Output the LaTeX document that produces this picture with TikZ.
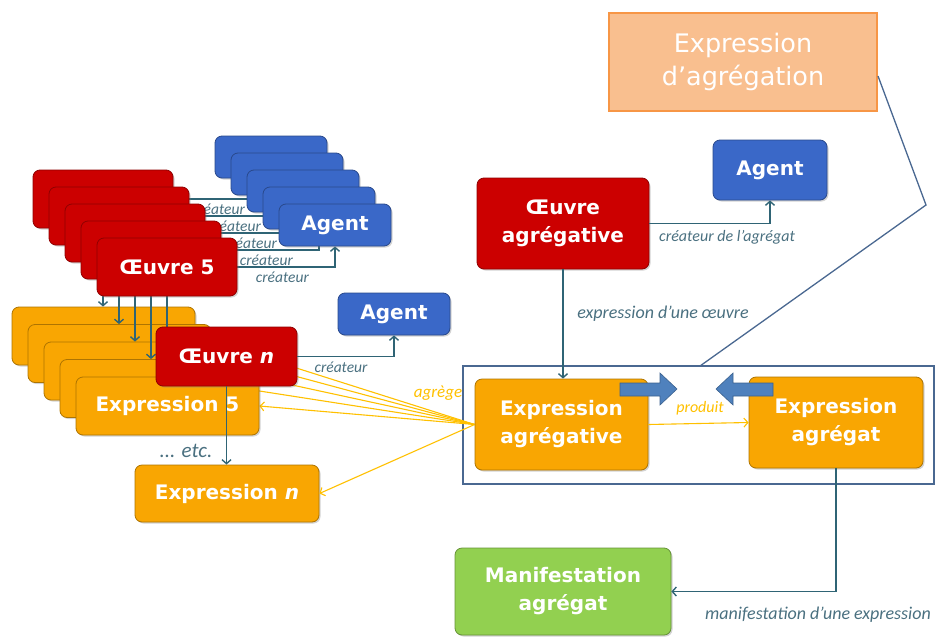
\documentclass[tikz,border=0pt]{standalone}
\usepackage{fontspec}
\newfontfamily\boxfont{DejaVu Sans}
\newfontfamily\lblfont{Carlito}
\usetikzlibrary{arrows.meta,shadows}
\definecolor{cred}{HTML}{CC0000}
\definecolor{cblue}{HTML}{3A68C8}
\definecolor{corange}{HTML}{F9A602}
\definecolor{cgreen}{HTML}{92D050}
\definecolor{cpeach}{HTML}{F9BF8F}
\definecolor{cpeachd}{HTML}{F79646}
\definecolor{cconn}{HTML}{2F6475}
\definecolor{clab}{HTML}{4A7080}
\definecolor{cyel}{HTML}{FFC000}
\definecolor{cframe}{HTML}{4A6891}
\definecolor{cbarrow}{HTML}{4F81BD}
\pgfdeclarelayer{lo}
\pgfdeclarelayer{ex}
\pgfdeclarelayer{ar}
\pgfsetlayers{lo,ex,ar,main}
\tikzset{
  bx/.style={rounded corners=7pt, fill=#1, draw=#1!70!black, line width=0.8pt,
    text=white, align=center, inner sep=0pt,
    font=\boxfont\bfseries\fontsize{20}{28}\selectfont,
    drop shadow={shadow xshift=1.5pt, shadow yshift=-1.5pt, opacity=0.35}},
  sz/.style 2 args={minimum width=#1pt, minimum height=#2pt},
  conn/.style={draw=cconn, line width=1.4pt, -{Straight Barb[length=4pt,width=9pt]}},
  yl/.style={draw=cyel, line width=1.1pt},
  yla/.style={yl, -{Straight Barb[length=4pt,width=9pt]}},
  lbl/.style={font=\lblfont\itshape\fontsize{15.5}{17}\selectfont, text=clab, inner sep=0pt},
  ylbl/.style={lbl, text=cyel},
}
\begin{document}
\begin{tikzpicture}[x=1pt,y=-1pt]
\useasboundingbox (0,0) rectangle (939,637);

% ---------- expression stack (layer ex)
\begin{pgfonlayer}{ex}
\foreach \i in {1,...,4}{
  \node[bx=corange, sz={183}{58}] (e\i) at ({103.5+16*(\i-1)},{336+17.5*(\i-1)}) {};
}
\node[bx=corange, sz={183}{58}] (e5) at (167.5,406) {Expression 5};
\end{pgfonlayer}

% ---------- red stack
\foreach \i in {1,...,4}{
  \node[bx=cred, sz={140}{58}] (o\i) at ({103+16*(\i-1)},{199+17*(\i-1)}) {};
}
\node[bx=cred, sz={140}{58}] (o5) at (167,267) {Œuvre 5};

% ---------- agent stack
\foreach \i in {1,...,4}{
  \node[bx=cblue, sz={112}{42}] (a\i) at ({271+16*(\i-1)},{157+17*(\i-1)}) {};
}
\node[bx=cblue, sz={112}{42}] (a5) at (335,225) {Agent};

% ---------- other left nodes
\node[bx=cred, sz={141}{59}] (on) at (226.5,356.5) {Œuvre \textit{n}};
\node[bx=cblue, sz={112}{42}] (am) at (394,314) {Agent};
\node[bx=corange, sz={184}{57}] (en) at (227,493.5) {Expression \textit{n}};

% ---------- right nodes
\node[bx=cred, sz={172}{91}] (oa) at (563,223.5) {Œuvre\\agrégative};
\node[bx=cblue, sz={114}{60}] (ar) at (770,170) {Agent};
\node[bx=corange, sz={173}{91}] (ea) at (561.5,424.5) {Expression\\agrégative};
\node[bx=corange, sz={174}{91}] (eg) at (836,422.5) {Expression\\agrégat};
\node[bx=cgreen, sz={216}{87}] (ma) at (563,591.5) {Manifestation\\agrégat};
\node[fill=cpeach, draw=cpeachd, line width=2pt, sz={268}{98}, inner sep=0pt,
      text=white, align=center, font=\boxfont\fontsize{25.5}{33}\selectfont] (ed) at (743,62)
      {Expression\\d’agrégation};

% ---------- low layer: frame, yellow lines, creator lines
\begin{pgfonlayer}{lo}
\node[draw=cframe, line width=1.3pt, sz={471}{118}, inner sep=0pt] (frm) at (698.5,425) {};
\foreach \i in {1,...,5}{
  \draw[yla] (ea.west) -- (e\i.east);
  \draw[conn] (o\i.east) -| (a\i.south);
  \node[lbl] at ([shift={(45,10)}]o\i.east) {créateur};
}
\end{pgfonlayer}

% ---------- arrows from works to expressions
\begin{pgfonlayer}{ar}
\foreach \i in {1,...,5}{
  \draw[conn] (o\i.south) -- (o\i.south |- e\i.north);
}
\end{pgfonlayer}

% ---------- connectors on main layer
\draw[yla] (ea.west) -- (en.east);
\draw[conn] (on.east) -| (am.south);
\draw[conn] (on.south) -- (on.south |- en.north);
\draw[conn] (oa.east) -| (ar.south);
\draw[conn] (oa.south) -- (oa.south |- ea.north);
\draw[yla] (ea.east) -- (eg.west);
\draw[conn] (eg.south) |- (ma.east);
\coordinate (k1) at (926,205);
\coordinate (k2) at (700,366);
\draw[draw=cframe, line width=1.3pt] ([yshift=-14pt]ed.east) -- (k1) -- (k2);

% block arrows
\filldraw[fill=cbarrow, draw=cbarrow!75!black, line width=0.6pt]
  (620,383) -- (660,383) -- (660,373) -- (677,389) -- (660,405) -- (660,396) -- (620,396) -- cycle;
\filldraw[fill=cbarrow, draw=cbarrow!75!black, line width=0.6pt]
  (773,383) -- (733,383) -- (733,373) -- (716,389) -- (733,405) -- (733,396) -- (773,396) -- cycle;

% ---------- labels
\node[lbl] at (341,367) {créateur};
\node[lbl, font=\lblfont\itshape\fontsize{16}{18}\selectfont] at (727,237) {créateur de l’agrégat};
\node[lbl, font=\lblfont\itshape\fontsize{18}{20}\selectfont] at (663,314) {expression d’une œuvre};
\node[lbl, font=\lblfont\itshape\fontsize{18}{20}\selectfont] at (818,615) {manifestation d’une expression};
\node[lbl, font=\lblfont\itshape\fontsize{21}{23}\selectfont] at (186,451) {... etc.};
\node[ylbl, font=\lblfont\itshape\fontsize{17}{19}\selectfont] at (438,393) {agrège};
\node[ylbl, font=\lblfont\itshape\fontsize{16}{18}\selectfont] at (700,408) {produit};
\end{tikzpicture}
\end{document}
